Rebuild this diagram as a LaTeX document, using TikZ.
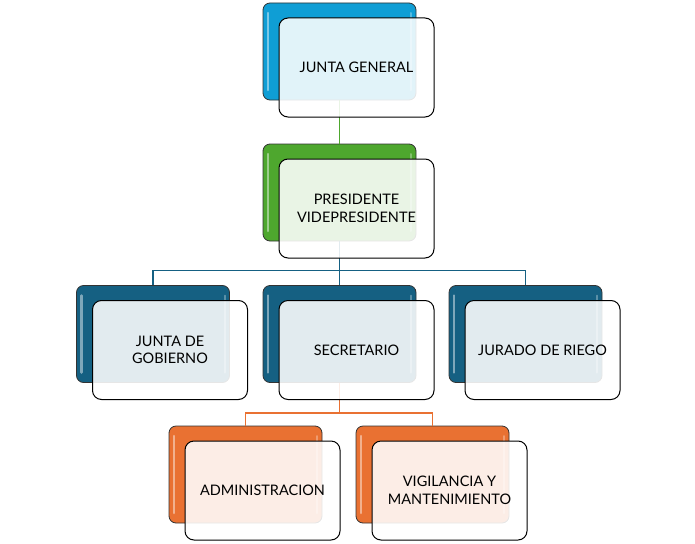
\documentclass[tikz,border=0pt]{standalone}
\usepackage{fontspec}
\setmainfont{Lato}
\definecolor{jgblue}{HTML}{0F9ED5}
\definecolor{pvgreen}{HTML}{4EA72E}
\definecolor{secteal}{HTML}{156082}
\definecolor{admorange}{HTML}{E97132}
\tikzset{
  backbox/.style={draw=black!80, line width=0.8pt, rounded corners=7pt,
    minimum width=153pt, minimum height=97pt, fill=#1,
    path picture={\draw[white, draw opacity=.45, line width=2.5pt, line cap=round]
      ([xshift=5pt,yshift=-10pt]path picture bounding box.north west) --
      ([xshift=5pt,yshift=10pt]path picture bounding box.south west);
      \draw[white, draw opacity=.3, line width=2pt, line cap=round]
      ([xshift=-5pt,yshift=-10pt]path picture bounding box.north east) --
      ([xshift=-5pt,yshift=10pt]path picture bounding box.south east);}},
  frontbox/.style={draw=black, line width=1pt, rounded corners=9pt,
    minimum width=155pt, minimum height=99pt, fill=white, fill opacity=.88,
    text opacity=1, align=center, font=\fontsize{14.5}{17.5}\selectfont},
  link/.style={line width=1.3pt, draw=#1, draw opacity=1}
}
\begin{document}
\begin{tikzpicture}[x=1pt, y=-1pt]
    \useasboundingbox (0,0) rectangle (695,543);
    \node[backbox=jgblue] (jg) at (339.5,51.5) {};
    \node[backbox=pvgreen] (pv) at (339.5,192.5) {};
    \node[backbox=secteal] (jgo) at (153,334) {};
    \node[backbox=secteal] (sec) at (339.5,334) {};
    \node[backbox=secteal] (jr) at (525.5,334) {};
    \node[backbox=admorange] (adm) at (245.5,474.5) {};
    \node[backbox=admorange] (vig) at (432.5,474.5) {};
    \draw[link=pvgreen] (jg.south) -- (pv.north);
    \draw[link=secteal] (pv.south) -- ++(0,29) -| (jgo.north);
    \draw[link=secteal] (pv.south) -- (sec.north);
    \draw[link=secteal] (pv.south) -- ++(0,29) -| (jr.north);
    \draw[link=admorange] (sec.south) -- ++(0,30) -| (adm.north);
    \draw[link=admorange] (sec.south) -- ++(0,30) -| (vig.north);
    \node[frontbox] (jgtext) at (356.5,67.5) {JUNTA GENERAL};
    \node[frontbox] (pvtext) at (356.5,208.5) {PRESIDENTE\\VIDEPRESIDENTE};
    \node[frontbox] (jgotext) at (170,350) {JUNTA DE\\GOBIERNO};
    \node[frontbox] (sectext) at (356.5,350) {SECRETARIO};
    \node[frontbox] (jrtext) at (542.5,350) {JURADO DE RIEGO};
    \node[frontbox] (admtext) at (262.5,490.5) {ADMINISTRACION};
    \node[frontbox] (vigtext) at (449.5,490.5) {VIGILANCIA Y\\MANTENIMIENTO};
\end{tikzpicture}
\end{document}
